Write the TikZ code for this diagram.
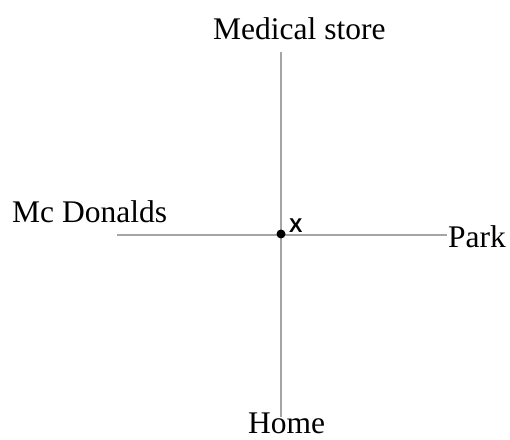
\documentclass[tikz,border=0pt]{standalone}
\usepackage{fontspec}
\setmainfont{Liberation Serif}
\newfontfamily\xsans{Liberation Sans}
\definecolor{axisgray}{RGB}{165,165,165}
\begin{document}
\begin{tikzpicture}[x=1pt,y=1pt,
  lbl/.style={font=\fontsize{31.5}{31.5}\selectfont, inner sep=0pt, anchor=base west, text=black},
  axis/.style={draw=axisgray, line width=1.5pt},
  dotpt/.style={circle, fill=black, inner sep=0pt, minimum size=9pt}]
\useasboundingbox (0,0) rectangle (510,439);
% image coordinates: y_tikz = 439 - y_img
\coordinate (top) at (281,387);
\coordinate (bottom) at (281,22);
\coordinate (left) at (117,204);
\coordinate (right) at (447,204);
\draw[axis] (top) -- (bottom);
\draw[axis] (left) -- (right);
\node[dotpt] (x) at (281,205) {};
\node[font=\xsans\bfseries\fontsize{20}{20}\selectfont, inner sep=0pt, anchor=base west] (xl) at (289,206) {X};
\node[lbl] (med) at (213,399) {Medical store};
\node[lbl] (mcd) at (12,216) {Mc Donalds};
\node[lbl] (park) at (448,192) {Park};
\node[lbl] (home) at (248,6) {Home};
\end{tikzpicture}
\end{document}
